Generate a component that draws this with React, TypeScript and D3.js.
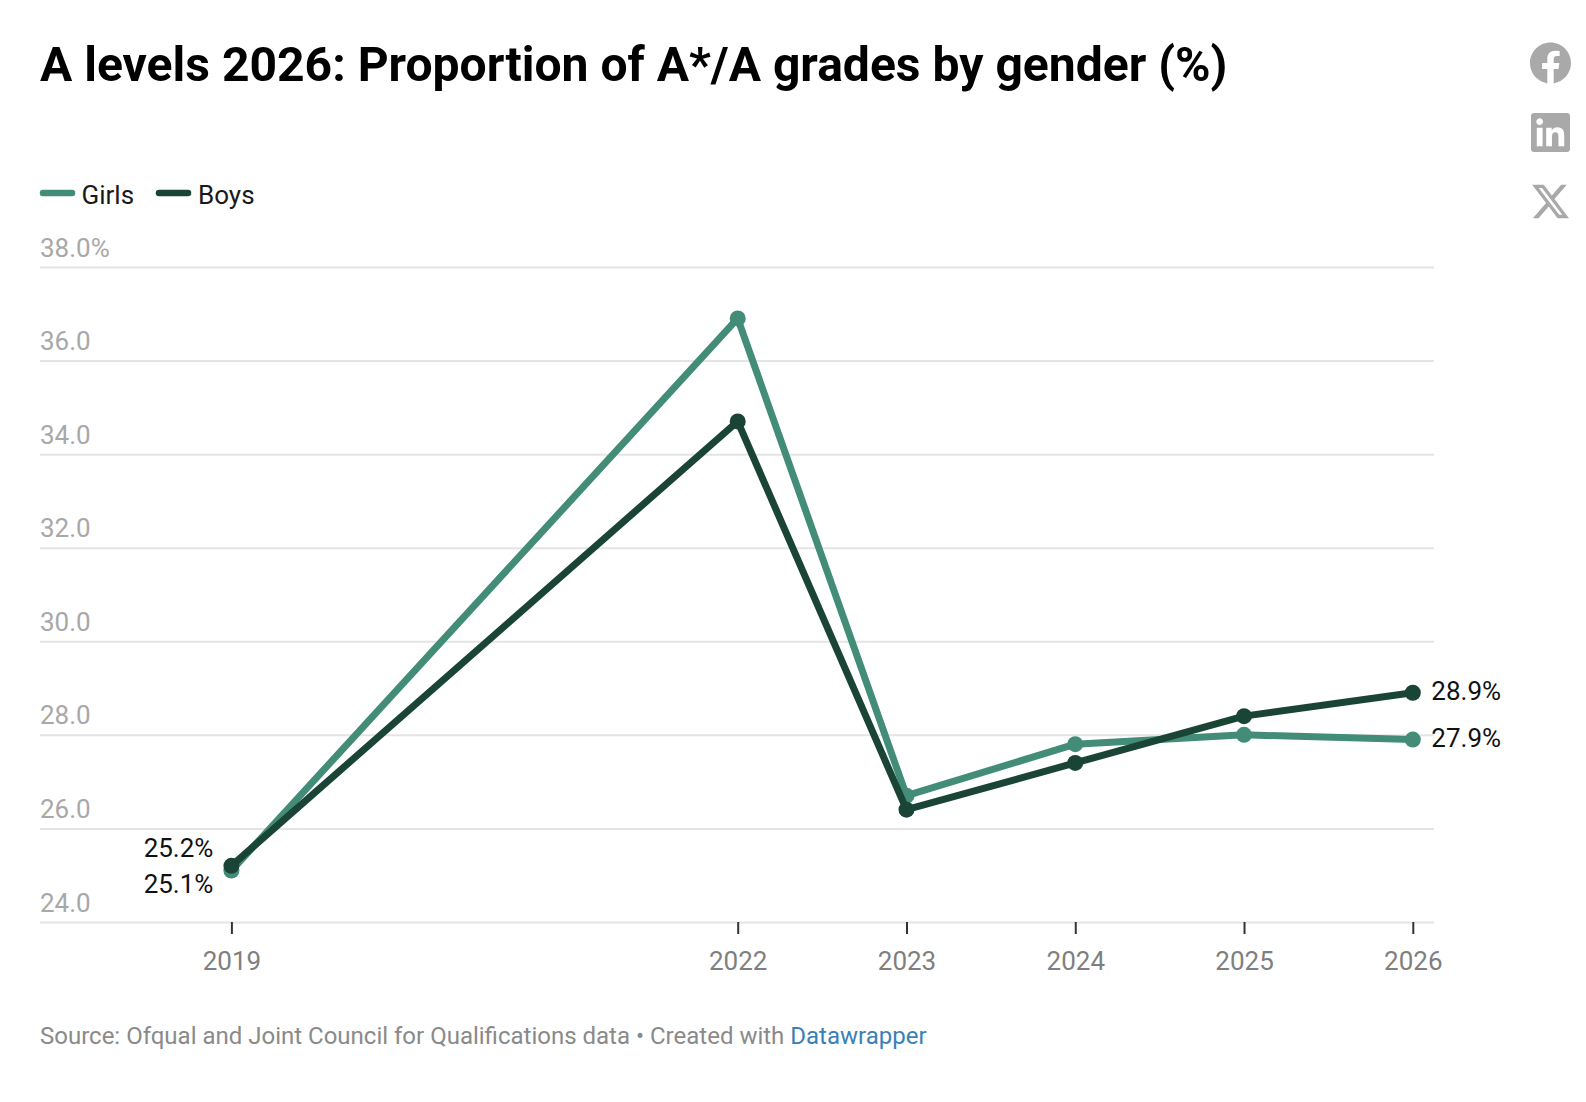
import React, {useEffect, useRef} from 'react';
import * as d3 from 'd3';

const years = [2019, 2022, 2023, 2024, 2025, 2026];
const girls = [25.1, 36.9, 26.7, 27.8, 28.0, 27.9];
const boys = [25.2, 34.7, 26.4, 27.4, 28.4, 28.9];
const yTicks = [24, 26, 28, 30, 32, 34, 36, 38];

const GIRLS_COLOR = '#428c78';
const BOYS_COLOR = '#1a4536';
const FONT = 'Roboto, sans-serif';

const FACEBOOK = 'M24 12.073c0-6.627-5.373-12-12-12s-12 5.373-12 12c0 5.99 4.388 10.954 10.125 11.854v-8.385H7.078v-3.47h3.047V9.43c0-3.007 1.792-4.669 4.533-4.669 1.312 0 2.686.235 2.686.235v2.953H15.83c-1.491 0-1.956.925-1.956 1.874v2.25h3.328l-.532 3.47h-2.796v8.385C19.612 23.027 24 18.062 24 12.073z';
const LINKEDIN = 'M20.447 20.452h-3.554v-5.569c0-1.328-.027-3.037-1.852-3.037-1.853 0-2.136 1.445-2.136 2.939v5.667H9.351V9h3.414v1.561h.046c.477-.9 1.637-1.85 3.37-1.85 3.601 0 4.267 2.37 4.267 5.455v6.286zM5.337 7.433c-1.144 0-2.063-.926-2.063-2.065 0-1.138.92-2.063 2.063-2.063 1.14 0 2.064.925 2.064 2.063 0 1.139-.925 2.065-2.064 2.065zm1.782 13.019H3.555V9h3.564v11.452zM22.225 0H1.771C.792 0 0 .774 0 1.729v20.542C0 23.227.792 24 1.771 24h20.451C23.2 24 24 23.227 24 22.271V1.729C24 .774 23.2 0 22.222 0h.003z';
const X_LOGO = 'M18.244 2.25h3.308l-7.227 8.26 8.502 11.24H16.17l-5.214-6.817L4.99 21.75H1.68l7.73-8.835L1.254 2.25H8.08l4.713 6.231zm-1.161 17.52h1.833L7.084 4.126H5.117z';

const App = () => {
  const svgRef = useRef<SVGSVGElement>(null);

  useEffect(() => {
    if (!svgRef.current) return;
    const svg = d3.select(svgRef.current);
    svg.selectAll('*').remove();

    const x = d3.scaleLinear().domain([2019, 2026]).range([231.4, 1412.8]);
    const y = d3.scaleLinear().domain([24, 38]).range([922, 267]);

    svg
      .append('text')
      .attr('x', 40)
      .attr('y', 81)
      .attr('font-size', 48.05)
      .attr('font-weight', 700)
      .attr('fill', '#000')
      .text('A levels 2026: Proportion of A*/A grades by gender (%)');

    // Legend
    const legend = [
      {name: 'Girls', color: GIRLS_COLOR, x0: 40, tx: 81.5},
      {name: 'Boys', color: BOYS_COLOR, x0: 156, tx: 198},
    ];
    legend.forEach((d) => {
      svg
        .append('line')
        .attr('x1', d.x0 + 3)
        .attr('x2', d.x0 + 32)
        .attr('y1', 193)
        .attr('y2', 193)
        .attr('stroke', d.color)
        .attr('stroke-width', 6.5)
        .attr('stroke-linecap', 'round');
      svg
        .append('text')
        .attr('x', d.tx)
        .attr('y', 204)
        .attr('font-size', 26)
        .attr('fill', '#1a1a1a')
        .text(d.name);
    });

    // Y grid and labels
    const yAxis = d3
      .axisRight(y)
      .tickValues(yTicks)
      .tickSize(1394)
      .tickFormat((d) => (d === 38 ? '38.0%' : (d as number).toFixed(1)));
    svg
      .append('g')
      .attr('transform', 'translate(40,0)')
      .call(yAxis)
      .call((g) => g.select('.domain').remove())
      .call((g) => g.selectAll('.tick line').attr('stroke', '#e4e4e4').attr('stroke-width', 2))
      .call((g) =>
        g
          .selectAll('.tick text')
          .attr('x', 0)
          .attr('dy', -11)
          .attr('text-anchor', 'start')
          .attr('font-family', FONT)
          .attr('font-size', 26)
          .attr('fill', '#a8a8a8'),
      );

    // X axis
    const xAxis = d3
      .axisBottom(x)
      .tickValues(years)
      .tickSize(12)
      .tickPadding(18)
      .tickFormat((d) => String(d));
    svg
      .append('g')
      .attr('transform', 'translate(0,922)')
      .call(xAxis)
      .call((g) => g.select('.domain').remove())
      .call((g) => g.selectAll('.tick line').attr('stroke', '#333').attr('stroke-width', 2))
      .call((g) =>
        g
          .selectAll('.tick text')
          .attr('font-family', FONT)
          .attr('font-size', 26)
          .attr('fill', '#7f7f7f'),
      );

    const line = d3
      .line<number>()
      .x((_, i) => x(years[i]))
      .y((d) => y(d));

    const seriesList = [
      {values: girls, color: GIRLS_COLOR},
      {values: boys, color: BOYS_COLOR},
    ];
    seriesList.forEach((s) => {
      svg
        .append('path')
        .datum(s.values)
        .attr('fill', 'none')
        .attr('stroke', s.color)
        .attr('stroke-width', 7)
        .attr('stroke-linejoin', 'round')
        .attr('d', line);
      svg
        .append('g')
        .selectAll('circle')
        .data(s.values)
        .join('circle')
        .attr('cx', (_, i) => x(years[i]))
        .attr('cy', (d) => y(d))
        .attr('r', 8)
        .attr('fill', s.color);
    });

    // Value labels
    const labels = [
      {text: '25.2%', px: x(2019) - 18, py: 848, anchor: 'end'},
      {text: '25.1%', px: x(2019) - 18, py: 884, anchor: 'end'},
      {text: '28.9%', px: x(2026) + 18.5, py: 691, anchor: 'start'},
      {text: '27.9%', px: x(2026) + 18.5, py: 738, anchor: 'start'},
    ];
    labels.forEach((d) => {
      svg
        .append('text')
        .attr('x', d.px)
        .attr('y', d.py + 9)
        .attr('text-anchor', d.anchor)
        .attr('font-size', 26)
        .attr('fill', '#111')
        .text(d.text);
    });

    // Footer
    const footer = svg
      .append('text')
      .attr('x', 40)
      .attr('y', 1043.5)
      .attr('font-size', 24)
      .attr('fill', '#8a8a8a');
    footer.append('tspan').text('Source: Ofqual and Joint Council for Qualifications data • Created with ');
    footer.append('tspan').attr('fill', '#3a7fb8').text('Datawrapper');

    // Share icons
    const icons = [
      {d: FACEBOOK, tx: 1530, ty: 42.5, k: 41 / 24},
      {d: LINKEDIN, tx: 1531, ty: 113, k: 39 / 24},
      {d: X_LOGO, tx: 1530, ty: 181, k: 41 / 24},
    ];
    icons.forEach((d) => {
      svg
        .append('path')
        .attr('d', d.d)
        .attr('transform', `translate(${d.tx},${d.ty}) scale(${d.k})`)
        .attr('fill', '#a9a9a9');
    });
  }, []);

  return (
    <svg
      ref={svgRef}
      width={1586}
      height={1102}
      fontFamily={FONT}
      style={{position: 'absolute', left: 0, top: 0, background: '#fff'}}
    />
  );
};

export default App;
